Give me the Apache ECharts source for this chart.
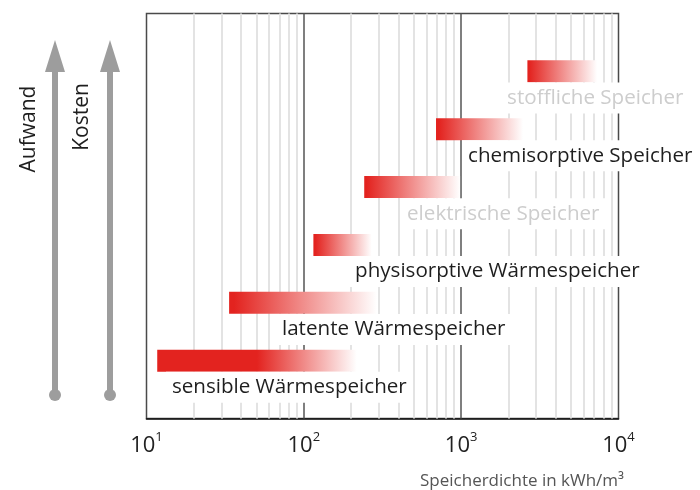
<!DOCTYPE html>
<html>
<head>
<meta charset="utf-8">
<script src="https://cdn.jsdelivr.net/npm/echarts@6/dist/echarts.min.js"></script>
<style>
  html, body { margin: 0; padding: 0; background: #fff; }
  #main { width: 700px; height: 490px; }
</style>
</head>
<body>
<div id="main"></div>
<script>
// Speicherarten, von unten nach oben
var names = ['sensible Wärmespeicher', 'latente Wärmespeicher', 'physisorptive Wärmespeicher',
  'elektrische Speicher', 'chemisorptive Speicher', 'stoffliche Speicher'];
var levels = [1, 2, 3, 4, 5, 6];
// Speicherdichte in kWh/m3 (Beginn, Ende voller Farbe, Ende Verlauf)
var rangeStart = [11.7, 33.5, 115, 242, 692, 2636];
var solidEnd = [50.4, 36, 118, 250, 720, 2700];
var rangeEnd = [217, 291, 270, 984, 2475, 7311];
// wo die Beschriftung beginnt
var labelX = [14.5, 72.6, 211.6, 453, 1106, 1959];
var labelGray = [false, false, false, true, false, true];
var decades = [10, 100, 1000];

var RED = '#e3231f';
var FONT = '"Open Sans", Roboto, sans-serif';

var gridLines = [];
decades.forEach(function (d) {
  for (var m = 1; m <= 9; m++) {
    var v = d * m;
    if (v === 10) continue;
    var major = (m === 1);
    gridLines.push({
      xAxis: v,
      lineStyle: major ? { color: '#555', width: 1.5, type: 'solid' }
                       : { color: '#e3e3e3', width: 2, type: 'solid' }
    });
  }
});

var barData = levels.map(function (l, i) {
  return [rangeStart[i], solidEnd[i], rangeEnd[i], l];
});
var labelData = levels.map(function (l, i) {
  return [labelX[i], l - 0.46, i];
});

function renderBar(params, api) {
  var p0 = api.coord([api.value(0), api.value(3)]);
  var p1 = api.coord([api.value(1), api.value(3)]);
  var p2 = api.coord([api.value(2), api.value(3)]);
  var w = p2[0] - p0[0];
  var s = Math.max(0, Math.min(1, (p1[0] - p0[0]) / w));
  return {
    type: 'rect',
    shape: { x: p0[0], y: p0[1] - 11, width: w, height: 22 },
    style: {
      fill: new echarts.graphic.LinearGradient(0, 0, 1, 0, [
        { offset: 0, color: RED },
        { offset: s, color: RED },
        { offset: 1, color: '#ffffff' }
      ])
    }
  };
}

function renderLabel(params, api) {
  var p = api.coord([api.value(0), api.value(1)]);
  var i = api.value(2);
  return {
    type: 'text',
    x: p[0] - 6,
    y: p[1],
    style: {
      text: names[i],
      fill: labelGray[i] ? '#cdcdcd' : '#1e1e1e',
      font: '20.6px ' + FONT,
      align: 'left',
      verticalAlign: 'middle',
      backgroundColor: '#fff',
      padding: [5, 6, 4, 6],
      lineHeight: 22
    }
  };
}

function arrow(x) {
  return [
    { type: 'rect', shape: { x: x - 3, y: 68, width: 6, height: 327 }, style: { fill: '#9d9d9d' } },
    { type: 'polygon', shape: { points: [[x - 10, 72], [x + 10, 72], [x, 40]] }, style: { fill: '#9d9d9d' } },
    { type: 'circle', shape: { cx: x, cy: 395, r: 6 }, style: { fill: '#9d9d9d' } }
  ];
}

var chartDom = document.getElementById('main');
var myChart = echarts.init(chartDom);
var option;

option = {
  animation: false,
  grid: {
    left: 146.5, right: 81.5, top: 13.5, bottom: 71.5,
    show: true, borderColor: '#4a4a4a', borderWidth: 1.5
  },
  xAxis: {
    type: 'log',
    logBase: 10,
    min: 10,
    max: 10000,
    axisLine: { show: true, lineStyle: { color: '#111', width: 1.5 } },
    axisTick: { show: false },
    splitLine: { show: false },
    axisLabel: {
      margin: 12,
      formatter: function (v) {
        return '{b|10}{s|' + Math.round(Math.log10(v)) + '}';
      },
      rich: {
        b: { fontSize: 22, fontFamily: FONT, color: '#222', lineHeight: 26, verticalAlign: 'bottom' },
        s: { fontSize: 13, fontFamily: FONT, color: '#222', lineHeight: 26, verticalAlign: 'top' }
      }
    }
  },
  yAxis: {
    type: 'value',
    min: 0,
    max: 7,
    show: false
  },
  graphic: arrow(55).concat(arrow(110)).concat([
    { type: 'text', x: 29, y: 129, rotation: Math.PI / 2,
      style: { text: 'Aufwand', font: '21px ' + FONT, fill: '#1e1e1e', align: 'center', verticalAlign: 'middle' } },
    { type: 'text', x: 82, y: 117, rotation: Math.PI / 2,
      style: { text: 'Kosten', font: '21px ' + FONT, fill: '#1e1e1e', align: 'center', verticalAlign: 'middle' } },
    { type: 'text', x: 420, y: 481,
      style: { text: 'Speicherdichte in kWh/m³', font: '17px ' + FONT, fill: '#555', align: 'left', verticalAlign: 'middle' } }
  ]),
  series: [
    {
      type: 'custom',
      name: 'bereich',
      z: 3,
      renderItem: renderBar,
      data: barData,
      silent: true,
      markLine: {
        z: 1,
        silent: true,
        symbol: 'none',
        label: { show: false },
        data: gridLines
      }
    },
    {
      type: 'custom',
      name: 'beschriftung',
      z: 4,
      renderItem: renderLabel,
      data: labelData,
      silent: true
    }
  ]
};

option && myChart.setOption(option);
</script>
</body>
</html>
